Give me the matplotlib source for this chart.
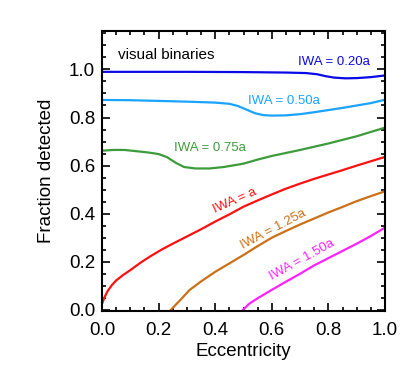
import numpy as np
import matplotlib.pyplot as plt
from matplotlib.ticker import MultipleLocator

plt.rcParams['font.family'] = ['Liberation Sans', 'DejaVu Sans']

# fraction detected vs eccentricity, one curve per inner working angle
ecc_020 = [0.0, 0.3, 0.5, 0.65, 0.72, 0.76, 0.79, 0.82, 0.86, 0.9, 0.95, 1.0]
frac_020 = [0.990, 0.990, 0.989, 0.987, 0.985, 0.980, 0.972, 0.966, 0.963, 0.964, 0.968, 0.975]

ecc_050 = [0.0, 0.1, 0.2, 0.3, 0.4, 0.45, 0.48, 0.51, 0.54, 0.57, 0.6, 0.65,
           0.7, 0.75, 0.8, 0.85, 0.9, 0.95, 1.0]
frac_050 = [0.873, 0.872, 0.869, 0.866, 0.862, 0.857, 0.848, 0.833, 0.818, 0.810, 0.808, 0.809,
            0.814, 0.822, 0.831, 0.840, 0.850, 0.860, 0.874]

ecc_075 = [0.0, 0.04, 0.08, 0.12, 0.16, 0.2, 0.23, 0.26, 0.29, 0.33, 0.38, 0.43,
           0.5, 0.55, 0.6, 0.7, 0.8, 0.9, 0.95, 1.0]
frac_075 = [0.662, 0.665, 0.665, 0.660, 0.655, 0.648, 0.635, 0.612, 0.594, 0.588, 0.588, 0.594,
            0.608, 0.625, 0.640, 0.665, 0.692, 0.722, 0.740, 0.758]

ecc_100 = [0.0, 0.01, 0.02, 0.035, 0.05, 0.075, 0.1, 0.135, 0.17, 0.21, 0.25, 0.3, 0.35,
           0.4, 0.45, 0.5, 0.55, 0.6, 0.65, 0.7, 0.75, 0.8, 0.85, 0.9, 0.95, 1.0]
frac_100 = [0.025, 0.055, 0.078, 0.103, 0.122, 0.145, 0.165, 0.195, 0.222, 0.250, 0.275, 0.305, 0.335,
            0.367, 0.397, 0.429, 0.455, 0.480, 0.504, 0.525, 0.545, 0.563, 0.581, 0.600, 0.618, 0.636]

ecc_125 = [0.235, 0.25, 0.28, 0.31, 0.35, 0.4, 0.45, 0.5, 0.55, 0.6, 0.65, 0.7,
           0.75, 0.8, 0.85, 0.9, 0.95, 1.0]
frac_125 = [-0.01, 0.008, 0.045, 0.083, 0.118, 0.158, 0.193, 0.228, 0.265, 0.300, 0.328, 0.355,
            0.380, 0.405, 0.428, 0.452, 0.473, 0.493]

ecc_150 = [0.49, 0.52, 0.55, 0.6, 0.65, 0.7, 0.75, 0.8, 0.85, 0.9, 0.95, 1.0]
frac_150 = [-0.01, 0.025, 0.048, 0.083, 0.117, 0.150, 0.185, 0.215, 0.245, 0.275, 0.307, 0.342]

curves = [
    (ecc_020, frac_020, '#0a0ae6', 'IWA = 0.20a', 0.82, 1.030, 0),
    (ecc_050, frac_050, '#1aa3ff', 'IWA = 0.50a', 0.643, 0.868, 0),
    (ecc_075, frac_075, '#3c9c3c', 'IWA = 0.75a', 0.383, 0.674, 0),
    (ecc_100, frac_100, '#ff1010', 'IWA = a', 0.47, 0.452, 24),
    (ecc_125, frac_125, '#cc7018', 'IWA = 1.25a', 0.605, 0.333, 28),
    (ecc_150, frac_150, '#ff22ff', 'IWA = 1.50a', 0.705, 0.208, 29),
]

fig = plt.figure(figsize=(4.15, 3.76), dpi=100)
ax = fig.add_axes([0.2458, 0.1729, 0.682, 0.7447])

for e, f, c, lab, tx, ty, rot in curves:
    ax.plot(e, f, color=c, lw=1.6, solid_joinstyle='round')
    ax.text(tx, ty, lab, color=c, fontsize=9.5, ha='center', va='center', rotation=rot)

ax.text(0.057, 1.058, 'visual binaries', fontsize=11, ha='left', va='center')

ax.set_xlim(0, 1)
ax.set_ylim(-0.005, 1.16)
ax.xaxis.set_major_locator(MultipleLocator(0.2))
ax.xaxis.set_minor_locator(MultipleLocator(0.05))
ax.yaxis.set_major_locator(MultipleLocator(0.2))
ax.yaxis.set_minor_locator(MultipleLocator(0.05))
ax.xaxis.set_major_formatter(plt.FuncFormatter(lambda v, p: f'{v:.1f}'))
ax.yaxis.set_major_formatter(plt.FuncFormatter(lambda v, p: f'{v:.1f}'))
ax.tick_params(which='both', direction='in', top=True, right=True, width=1.2, labelsize=13.5)
ax.tick_params(which='major', length=6)
ax.tick_params(which='minor', length=3)
ax.tick_params(axis='x', pad=8)
ax.tick_params(axis='y', pad=5)
for s in ax.spines.values():
    s.set_linewidth(1.5)

ax.set_xlabel('Eccentricity', fontsize=13.5, labelpad=3)
ax.set_ylabel('Fraction detected', fontsize=13.5, labelpad=10)

fig.savefig('out.png', dpi=100)
